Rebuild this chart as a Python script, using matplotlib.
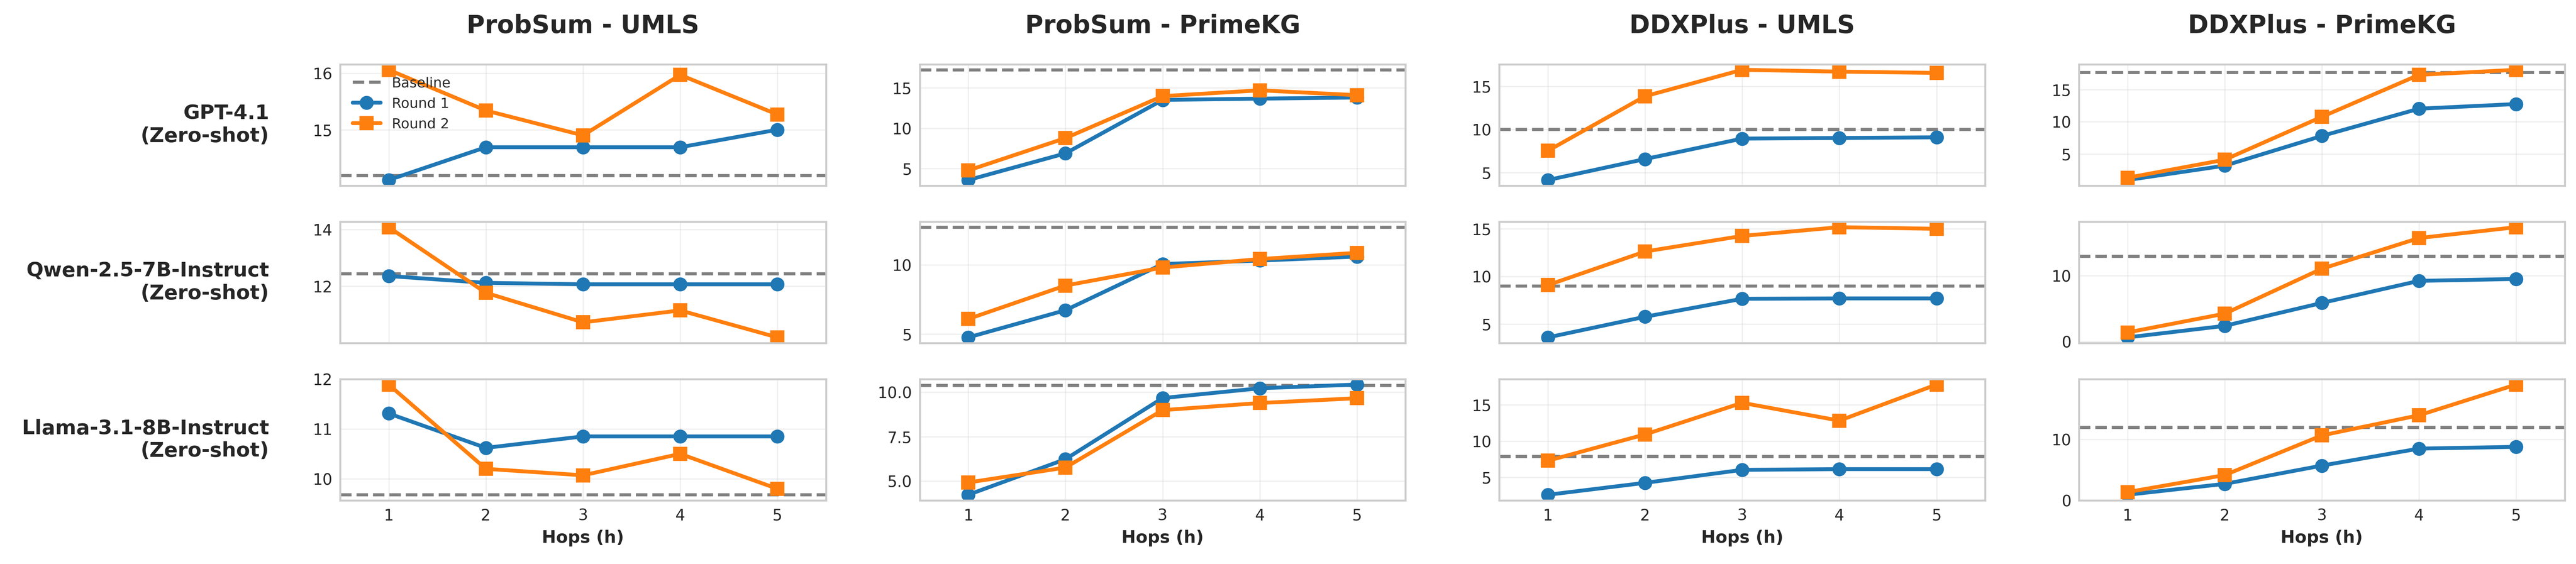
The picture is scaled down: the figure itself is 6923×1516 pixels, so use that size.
import matplotlib
matplotlib.use("Agg")
import matplotlib.pyplot as plt
import seaborn as sns

hops = [1, 2, 3, 4, 5]
datasets = ["ProbSum - UMLS", "ProbSum - PrimeKG", "DDXPlus - UMLS", "DDXPlus - PrimeKG"]
models = ["GPT-4.1\n(Zero-shot)",
          "Qwen-2.5-7B-Instruct\n(Zero-shot)",
          "Llama-3.1-8B-Instruct\n(Zero-shot)"]

# GPT-4.1
gpt_baseline = [14.19, 17.23, 9.98, 17.6]
gpt_round1 = [
    [14.11, 14.69, 14.69, 14.69, 15.0],
    [3.58, 6.88, 13.5, 13.66, 13.8],
    [4.13, 6.56, 8.93, 9.0, 9.08],
    [0.99, 3.21, 7.81, 12.03, 12.75],
]
gpt_round2 = [
    [16.06, 15.34, 14.90, 15.97, 15.27],
    [4.77, 8.77, 13.97, 14.69, 14.09],
    [7.52, 13.84, 16.9, 16.69, 16.54],
    [1.34, 4.13, 10.77, 17.27, 18.05],
]

# Qwen-2.5-7B-Instruct
qwen_baseline = [12.44, 12.71, 8.98, 12.9]
qwen_round1 = [
    [12.36, 12.12, 12.07, 12.07, 12.07],
    [4.76, 6.72, 10.05, 10.3, 10.59],
    [3.58, 5.75, 7.64, 7.68, 7.68],
    [0.62, 2.37, 5.85, 9.2, 9.49],
]
qwen_round2 = [
    [14.08, 11.77, 10.73, 11.15, 10.2],
    [6.09, 8.5, 9.8, 10.41, 10.86],
    [9.08, 12.61, 14.25, 15.17, 15.0],
    [1.37, 4.22, 11.04, 15.7, 17.35],
]

# Llama-3.1-8B-Instruct
llama_baseline = [9.68, 10.39, 7.87, 11.97]
llama_round1 = [
    [11.31, 10.62, 10.85, 10.85, 10.85],
    [4.23, 6.23, 9.67, 10.22, 10.43],
    [2.62, 4.26, 6.05, 6.15, 6.15],
    [0.9, 2.69, 5.7, 8.5, 8.79],
]
llama_round2 = [
    [11.89, 10.2, 10.07, 10.5, 9.8],
    [4.92, 5.76, 8.99, 9.39, 9.66],
    [7.31, 10.93, 15.28, 12.83, 17.8],
    [1.34, 4.14, 10.67, 13.99, 19.05],
]

baselines = [gpt_baseline, qwen_baseline, llama_baseline]
round1 = [gpt_round1, qwen_round1, llama_round1]
round2 = [gpt_round2, qwen_round2, llama_round2]

sns.set_style("whitegrid")
plt.rcParams['font.family'] = ['DejaVu Sans']
plt.rcParams['axes.linewidth'] = 1.25

fig, axes = plt.subplots(3, 4, figsize=(6924 / 300, 1516 / 300), dpi=300)
fig.subplots_adjust(left=0.132, right=0.9955, top=0.886, bottom=0.113,
                    wspace=0.193, hspace=0.298)

for i in range(3):
    for j in range(4):
        ax = axes[i, j]
        ax.axhline(baselines[i][j], color='gray', ls='--', lw=2, label='Baseline')
        ax.plot(hops, round1[i][j], marker='o', color='#1f77b4', lw=2.5, ms=8,
                label='Round 1')
        ax.plot(hops, round2[i][j], marker='s', color='#ff7f0e', lw=2.5, ms=8,
                label='Round 2')
        ax.set_xticks(hops)
        ax.set_xlim(0.5, 5.5)
        ax.grid(True, alpha=0.3)
        ax.tick_params(axis='both', labelsize=10, length=0, pad=5)
        if i < 2:
            ax.tick_params(labelbottom=False)
        else:
            ax.set_xlabel("Hops (h)", fontsize=11, fontweight='bold')
        if i == 0:
            ax.set_title(datasets[j], fontsize=16, fontweight='bold', pad=20)
        if j == 0:
            ax.text(-0.146, 0.5, models[i], transform=ax.transAxes,
                    ha='right', va='center', fontsize=13, fontweight='bold',
                    color='0.15')

axes[0, 0].legend(loc='upper left', fontsize=9, frameon=False)

fig.savefig("out.png", dpi=300)
